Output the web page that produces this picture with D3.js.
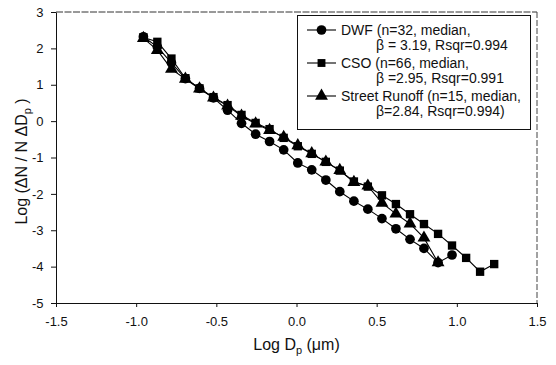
<!DOCTYPE html>
<html>
<head>
<meta charset="utf-8">
<script src="https://cdn.jsdelivr.net/npm/d3@7"></script>
<style>
  body { margin: 0; background: #fff; }
  svg { font-family: "Liberation Sans", Arial, sans-serif; }
</style>
</head>
<body>
<div id="chart"></div>
<script>
// log Dp bins (um)
var logDp = [-0.955, -0.868, -0.780, -0.693, -0.605, -0.518, -0.430, -0.343, -0.255, -0.168,
             -0.080, 0.008, 0.095, 0.183, 0.270, 0.358, 0.445, 0.533, 0.620, 0.708,
             0.795, 0.883, 0.970, 1.058, 1.145, 1.233];

var dwf = [2.32, 2.04, 1.60, 1.17, 0.90, 0.64, 0.30, -0.06, -0.36, -0.56,
           -0.79, -1.15, -1.34, -1.62, -1.94, -2.20, -2.42, -2.68, -2.96, -3.25,
           -3.50, -3.89, -3.68];

var cso = [2.30, 2.18, 1.72, 1.18, 0.90, 0.66, 0.44, 0.17, -0.05, -0.22,
           -0.46, -0.69, -0.90, -1.12, -1.36, -1.66, -1.80, -2.04, -2.28, -2.56,
           -2.83, -3.10, -3.42, -3.76, -4.14, -3.93];

var runoff = [2.28, 1.95, 1.43, 1.16, 0.89, 0.64, 0.42, 0.14, -0.07, -0.25,
              -0.44, -0.67, -0.89, -1.12, -1.35, -1.68, -1.78, -2.25, -2.55, -2.82,
              -3.21, -3.89];

var xTicks = [-1.5, -1.0, -0.5, 0.0, 0.5, 1.0, 1.5];
var yTicks = [-5, -4, -3, -2, -1, 0, 1, 2, 3];

var legendLines = [
    ["DWF (n=32, median,", "\u03b2 = 3.19, Rsqr=0.994"],
    ["CSO (n=66, median,", "\u03b2 =2.95, Rsqr=0.991"],
    ["Street Runoff (n=15, median,", "\u03b2=2.84, Rsqr=0.994)"]
];

var width = 556, height = 365;
var margins = {top: 12, right: 19, bottom: 62, left: 56};

var svg = d3.select("#chart").append("svg")
    .attr("width", width)
    .attr("height", height);

var x = d3.scaleLinear().domain([-1.5, 1.5]).range([margins.left, width - margins.right]);
var y = d3.scaleLinear().domain([-5, 3]).range([height - margins.bottom, margins.top]);

// frame (top / right look like scanned dashed lines)
svg.append("line")
    .attr("x1", x(-1.5)).attr("x2", x(1.5)).attr("y1", y(3)).attr("y2", y(3))
    .attr("stroke", "#333").attr("stroke-dasharray", "7,1.5");
svg.append("line")
    .attr("x1", x(1.5)).attr("x2", x(1.5)).attr("y1", y(3)).attr("y2", y(-5))
    .attr("stroke", "#444").attr("stroke-dasharray", "6,2");

// axes
var xAxis = svg.append("g")
    .attr("transform", "translate(0," + y(-5) + ")")
    .call(d3.axisBottom(x).tickValues(xTicks).tickSize(4).tickSizeOuter(0)
        .tickFormat(function(d) { return d.toFixed(1); }));

var yAxis = svg.append("g")
    .attr("transform", "translate(" + x(-1.5) + ",0)")
    .call(d3.axisLeft(y).tickValues(yTicks).tickSize(5).tickSizeOuter(0)
        .tickFormat(function(d) { return String(d); }));

[xAxis, yAxis].forEach(function(g) {
    g.select(".domain").attr("stroke", "#111");
    g.selectAll(".tick line").attr("stroke", "#111");
    g.selectAll(".tick text")
        .attr("font-family", "Liberation Sans, Arial, sans-serif")
        .attr("font-size", 13)
        .attr("fill", "#111");
});
xAxis.selectAll(".tick text").attr("dy", "1.25em");
yAxis.selectAll(".tick text").attr("dx", "-0.35em");

// axis titles
var xt = svg.append("text")
    .attr("x", (x(-1.5) + x(1.5)) / 2)
    .attr("y", 350)
    .attr("text-anchor", "middle")
    .attr("font-size", 16)
    .attr("fill", "#111");
xt.append("tspan").text("Log D");
xt.append("tspan").attr("font-size", 11).attr("dy", 4).text("p");
xt.append("tspan").attr("dy", -4).text(" (\u03bcm)");

var yt = svg.append("text")
    .attr("transform", "translate(27," + (y(-1) + 4) + ") rotate(-90)")
    .attr("text-anchor", "middle")
    .attr("font-size", 16)
    .attr("fill", "#111");
yt.append("tspan").text("Log (\u0394N / N \u0394D");
yt.append("tspan").attr("font-size", 11).attr("dy", 4).text("p");
yt.append("tspan").attr("dy", -4).text(" )");

// series
var series = [
    {name: "runoff", values: runoff, shape: d3.symbolTriangle, size: 72},
    {name: "cso", values: cso, shape: d3.symbolSquare, size: 70},
    {name: "dwf", values: dwf, shape: d3.symbolCircle, size: 74}
];

var line = d3.line()
    .x(function(d) { return x(d[0]); })
    .y(function(d) { return y(d[1]); });

series.forEach(function(s) {
    var pts = s.values.map(function(v, i) { return [logDp[i], v]; });
    svg.append("path")
        .datum(pts)
        .attr("d", line)
        .attr("fill", "none")
        .attr("stroke", "#000")
        .attr("stroke-width", 1.1);
    svg.append("g").selectAll("path")
        .data(pts)
        .enter().append("path")
        .attr("transform", function(d) { return "translate(" + x(d[0]) + "," + y(d[1]) + ")"; })
        .attr("d", d3.symbol().type(s.shape).size(s.size))
        .attr("fill", "#000");
});

// legend
var legend = svg.append("g");
legend.append("rect")
    .attr("x", 297.5).attr("y", 15.5)
    .attr("width", 233).attr("height", 114)
    .attr("fill", "#fff")
    .attr("stroke", "#111");

var legendShapes = [
    {shape: d3.symbolCircle, size: 74},
    {shape: d3.symbolSquare, size: 62},
    {shape: d3.symbolTriangle, size: 72}
];

legendLines.forEach(function(lines, i) {
    var cy = 30 + i * 33;
    legend.append("line")
        .attr("x1", 307).attr("x2", 336)
        .attr("y1", cy).attr("y2", cy)
        .attr("stroke", "#000").attr("stroke-width", 1.1);
    legend.append("path")
        .attr("transform", "translate(321.5," + cy + ")")
        .attr("d", d3.symbol().type(legendShapes[i].shape).size(legendShapes[i].size))
        .attr("fill", "#000");
    legend.append("text")
        .attr("x", 341).attr("y", cy + 5)
        .attr("font-size", 14).attr("fill", "#111")
        .text(lines[0]);
    legend.append("text")
        .attr("x", 376).attr("y", cy + 19.5)
        .attr("font-size", 14).attr("fill", "#111")
        .text(lines[1]);
});
</script>
</body>
</html>
